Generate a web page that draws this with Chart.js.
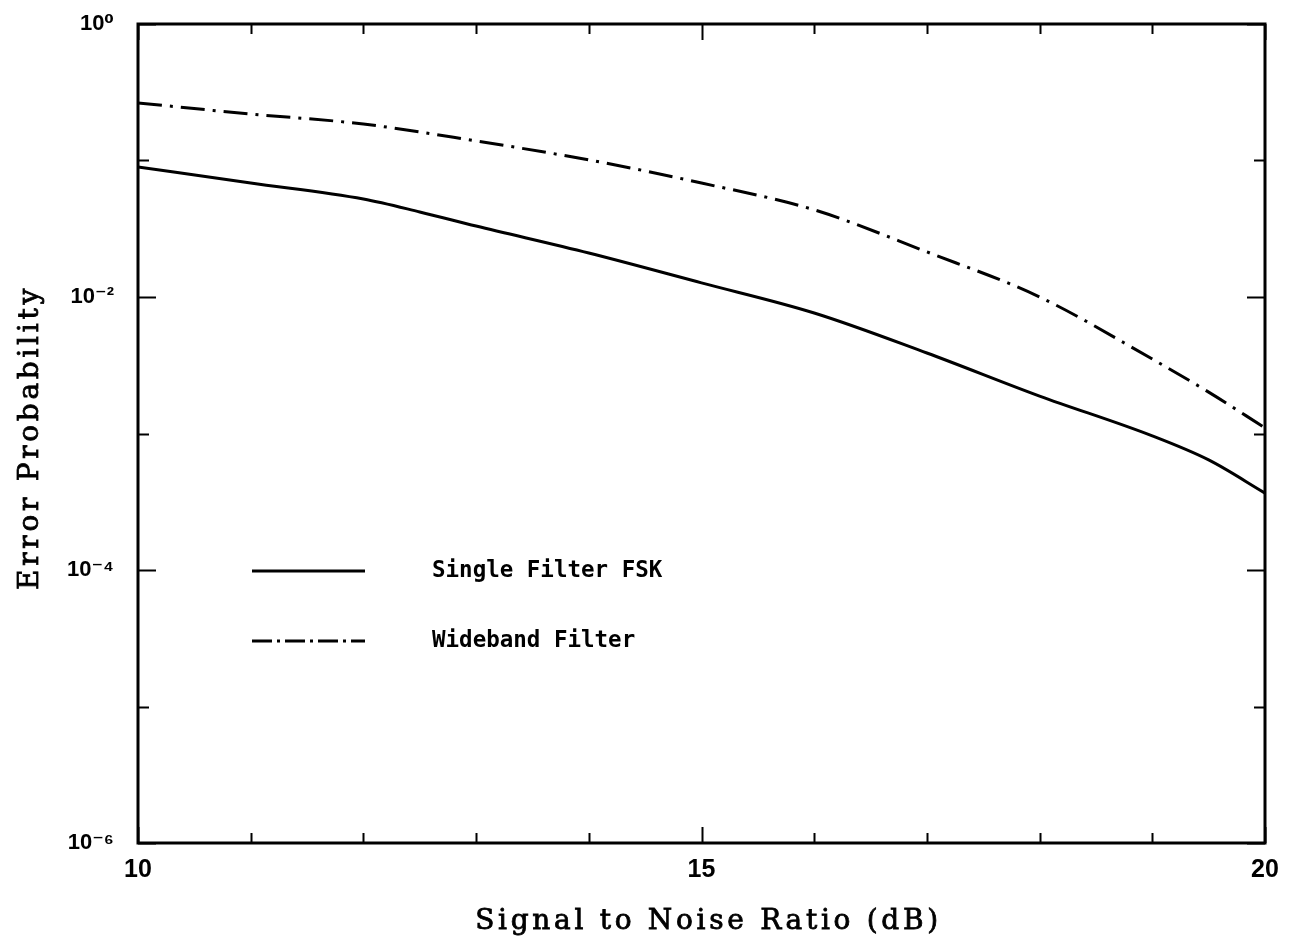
<!DOCTYPE html>
<html>
<head>
<meta charset="utf-8">
<script src="https://cdn.jsdelivr.net/npm/chart.js@4.4.1/dist/chart.umd.min.js"></script>
<style>
  html, body { margin: 0; padding: 0; background: #ffffff; }
  #wrap { width: 1303px; height: 944px; }
</style>
</head>
<body>
<div id="wrap"><canvas id="c" width="1303" height="944"></canvas></div>
<script>
// ---- data ----
const snrSingle = [10, 11, 12, 12.5, 13, 14, 15, 16, 17, 18, 19, 19.5, 20];
const errSingle = [0.0896, 0.0684, 0.0522, 0.0420, 0.0331, 0.0210, 0.0127, 0.00764, 0.00389, 0.00188, 0.00096, 0.00064, 0.000366];

const snrWide = [10, 11, 12, 13, 14, 15, 16, 17, 18, 19, 19.5, 20];
const errWide = [0.264, 0.219, 0.185, 0.139, 0.101, 0.0684, 0.0435, 0.0214, 0.0100, 0.00351, 0.00201, 0.0011];

const seriesNames = ['Single Filter FSK', 'Wideband Filter'];

const xTickValues = [10, 11, 12, 13, 14, 15, 16, 17, 18, 19, 20];
const xTickLabels = ['10', '', '', '', '', '15', '', '', '', '', '20'];
const yTickValues = [1, 1e-1, 1e-2, 1e-3, 1e-4, 1e-5, 1e-6];
const yTickLabels = ['10\u2070', '', '10\u207B\u00B2', '', '10\u207B\u2074', '', '10\u207B\u2076'];

const xTitle = 'Signal to Noise Ratio (dB)';
const yTitle = 'Error Probability';

const dashDot = [24, 8, 3, 8];
const legendDashDot = [20, 5, 3, 5];

const toPoints = (xs, ys) => xs.map((x, i) => ({ x: x, y: ys[i] }));

const framePlugin = {
  id: 'frameTicks',
  afterDatasetsDraw(chart) {
    const { ctx, chartArea: a, scales } = chart;
    const xs = scales.x, ys = scales.y;
    ctx.save();
    ctx.strokeStyle = '#000';
    ctx.lineCap = 'butt';
    // frame
    ctx.lineWidth = 3;
    ctx.strokeRect(a.left, a.top, a.right - a.left, a.bottom - a.top);
    // x ticks (inside, bottom and top)
    ctx.lineWidth = 2;
    xTickValues.forEach((v, i) => {
      const px = Math.round(xs.getPixelForValue(v)) + 0.5;
      const len = xTickLabels[i] !== '' ? 16 : 10;
      ctx.beginPath();
      ctx.moveTo(px, a.bottom); ctx.lineTo(px, a.bottom - len);
      ctx.moveTo(px, a.top); ctx.lineTo(px, a.top + len);
      ctx.stroke();
    });
    // y ticks (inside, left and right)
    yTickValues.forEach((v, i) => {
      const py = Math.round(ys.getPixelForValue(v)) + 0.5;
      const len = yTickLabels[i] !== '' ? 18 : 11;
      ctx.beginPath();
      ctx.moveTo(a.left, py); ctx.lineTo(a.left + len, py);
      ctx.moveTo(a.right, py); ctx.lineTo(a.right - len, py);
      ctx.stroke();
    });
    // legend
    const lx0 = 252, lx1 = 365, tx = 432;
    const rows = [571, 641];
    ctx.lineWidth = 3;
    rows.forEach((ry, i) => {
      ctx.setLineDash(i === 0 ? [] : legendDashDot);
      ctx.beginPath();
      ctx.moveTo(lx0, ry); ctx.lineTo(lx1, ry);
      ctx.stroke();
    });
    ctx.setLineDash([]);
    ctx.fillStyle = '#000';
    ctx.font = 'bold 22.5px "DejaVu Sans Mono", monospace';
    ctx.textBaseline = 'middle';
    ctx.textAlign = 'left';
    rows.forEach((ry, i) => ctx.fillText(seriesNames[i], tx, ry));

    // axis titles
    ctx.font = '28px "DejaVu Serif", serif';
    if ('letterSpacing' in ctx) ctx.letterSpacing = '3.7px';
    ctx.textBaseline = 'alphabetic';
    ctx.textAlign = 'center';
    ctx.lineWidth = 0.8;
    const xt = (a.left + a.right) / 2 + 7;
    ctx.fillText(xTitle, xt, 929);
    ctx.strokeText(xTitle, xt, 929);
    ctx.save();
    ctx.translate(38, (a.top + a.bottom) / 2 + 4);
    ctx.rotate(-Math.PI / 2);
    ctx.fillText(yTitle, 0, 0);
    ctx.strokeText(yTitle, 0, 0);
    ctx.restore();
    if ('letterSpacing' in ctx) ctx.letterSpacing = '0px';
    ctx.restore();
  }
};

new Chart(document.getElementById('c'), {
  type: 'line',
  data: {
    datasets: [
      {
        label: seriesNames[0],
        data: toPoints(snrSingle, errSingle),
        borderColor: '#000',
        borderWidth: 3,
        pointRadius: 0,
        fill: false,
        cubicInterpolationMode: 'monotone'
      },
      {
        label: seriesNames[1],
        data: toPoints(snrWide, errWide),
        borderColor: '#000',
        borderWidth: 3,
        borderDash: dashDot,
        pointRadius: 0,
        fill: false,
        cubicInterpolationMode: 'monotone'
      }
    ]
  },
  options: {
    responsive: false,
    animation: false,
    devicePixelRatio: 1,
    layout: { padding: { top: 24, right: 38, left: 0, bottom: 0 } },
    plugins: { legend: { display: false }, tooltip: { enabled: false } },
    scales: {
      x: {
        type: 'linear',
        min: 10, max: 20,
        grid: { display: false },
        border: { display: false },
        afterBuildTicks: (s) => { s.ticks = xTickValues.map(v => ({ value: v })); },
        afterFit: (s) => { s.height = 101; },
        ticks: {
          autoSkip: false,
          maxRotation: 0,
          padding: 4,
          color: '#000',
          font: { family: '"Liberation Sans", Arial, sans-serif', size: 25, weight: 'bold' },
          callback: (v) => { const i = xTickValues.indexOf(v); return i >= 0 ? xTickLabels[i] : ''; }
        },
        title: { display: false, text: xTitle }
      },
      y: {
        type: 'logarithmic',
        min: 1e-6, max: 1,
        grid: { display: false },
        border: { display: false },
        afterBuildTicks: (s) => { s.ticks = yTickValues.map(v => ({ value: v })); },
        afterFit: (s) => { s.width = 138; },
        ticks: {
          autoSkip: false,
          padding: 16,
          color: '#000',
          font: { family: '"Liberation Sans", "DejaVu Sans", sans-serif', size: 22, weight: 'bold', lineHeight: 0.5 },
          callback: (v) => { const i = yTickValues.findIndex(t => Math.abs(Math.log10(t) - Math.log10(v)) < 1e-6); return i >= 0 ? yTickLabels[i] : ''; }
        },
        title: { display: false, text: yTitle }
      }
    }
  },
  plugins: [framePlugin]
});
</script>
</body>
</html>
